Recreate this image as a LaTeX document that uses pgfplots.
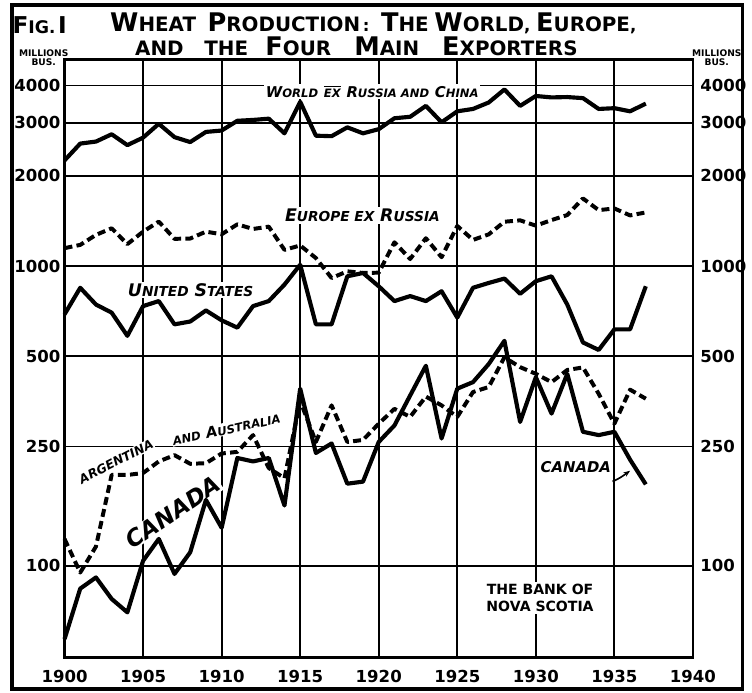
\documentclass[border=0pt]{standalone}
\usepackage{fontspec}
\setmainfont{DejaVu Sans}
\usepackage{pgfplots}
\usepackage{pgfplotstable}
\pgfplotsset{compat=1.18}
\usetikzlibrary{arrows.meta}
\newcommand{\sct}[2]{{\fontsize{15.5}{15.5}\selectfont #1}{\fontsize{12}{12}\selectfont #2}}
\newcommand{\scl}[2]{{\fontsize{9}{9}\selectfont #1}{\fontsize{7}{7}\selectfont #2}}
\newcommand{\scm}[2]{{\fontsize{10.5}{10.5}\selectfont #1}{\fontsize{8.3}{8.3}\selectfont #2}}

\pgfplotstableread{
year world europe us canada argaus
1900 2250 1147 690 57 123
1901 2560 1176 846 84 95
1902 2600 1270 744 91.5 116
1903 2750 1336 699 77.6 201
1904 2530 1183 585 70 201
1905 2680 1302 735 104 204
1906 2980 1406 764 123 223
1907 2690 1232 639 94 234
1908 2590 1235 653 111 219
1909 2800 1302 711 166 220
1910 2830 1276 659 134 237
1911 3050 1377 623 229 240
1912 3070 1329 735 223 273
1913 3100 1353 764 229 212
1914 2770 1132 867 159 196
1915 3530 1171 1010 390 355
1916 2720 1063 639 238 259
1917 2710 912 639 256 343
1918 2900 960 924 188 259
1919 2770 948 948 191 263
1920 2860 950 856 259 298
1921 3110 1200 764 294 334
1922 3145 1055 794 370 314
1923 3420 1238 764 465 367
1924 3015 1070 824 266 343
1925 3280 1360 673 390 314
1926 3340 1222 846 410 380
1927 3510 1275 878 471 395
1928 3880 1405 908 563 496
1929 3420 1420 808 302 460
1930 3690 1363 890 426 437
1931 3650 1423 924 322 410
1932 3660 1479 744 437 450
1933 3630 1680 556 280 459
1934 3340 1536 525 273 375
1935 3360 1556 615 280 298
1936 3280 1475 615 226 387
1937 3480 1509 856 187 361
}\wheat

\begin{document}
\begin{tikzpicture}[x=0.6pt,y=0.6pt]
\path (0,0) rectangle (752,698);
\draw[line width=2.2pt] (12,4) rectangle (748,693);
% title
\node[font=\bfseries] at (40,673) {{\fontsize{14}{14}\selectfont F}{\fontsize{10.5}{10.5}\selectfont IG}.\,{\fontsize{14}{14}\selectfont I}};
\node[font=\bfseries] at (376,674) {\sct{W}{HEAT}\ \ \sct{P}{RODUCTION}\,:\ \ \sct{T}{HE}\ \sct{W}{ORLD},\ \sct{E}{UROPE},};
\node[font=\bfseries] at (359,651) {{\fontsize{12}{12}\selectfont AND\ \ \ THE}\ \ \ \sct{F}{OUR}\ \ \ \ \sct{M}{AIN}\ \ \ \ \sct{E}{XPORTERS}};
\node[font=\bfseries\fontsize{5.5}{6}\selectfont, align=center, inner sep=0pt] at (44,640) {MILLIONS\\[-0.5pt]BUS.};
\node[font=\bfseries\fontsize{5.5}{6}\selectfont, align=center, inner sep=0pt] at (722,640) {MILLIONS\\[-0.5pt]BUS.};

\begin{axis}[
  at={(39pt,21.6pt)}, anchor=south west, scale only axis,
  width=379.8pt, height=361.2pt, set layers,
  xmin=1900, xmax=1940, ymode=log, ymin=49.6, ymax=4880,
  axis line style={line width=1.6pt},
  xtick={1900,1905,...,1940},
  ytick={100,250,500,1000,2000,3000,4000},
  yticklabels={100,250,500,1000,2000,3000,4000},
  grid=major, grid style={black, line width=1.1pt},
  major tick length=0pt,
  /pgf/number format/assume math mode=true,
  xticklabel style={font=\bfseries\fontsize{10}{10}\selectfont, /pgf/number format/1000 sep={}, yshift=-4.5pt},
  yticklabel style={font=\bfseries\fontsize{10}{10}\selectfont, xshift=1pt},
  clip=false,
]
\begin{pgfonlayer}{pre main}
\node[fill=white, inner sep=1pt, font=\bfseries\itshape] at (rel axis cs:0.4897,0.9468) {\scl{W}{ORLD} \scl{}{$\overline{\mbox{EX}}$} \scl{R}{USSIA AND} \scl{C}{HINA}};
\node[fill=white, inner sep=1pt, font=\bfseries\itshape] at (rel axis cs:0.474,0.739) {\scm{E}{UROPE EX} \scm{R}{USSIA}};
\node[fill=white, inner sep=1pt, font=\bfseries\itshape] at (rel axis cs:0.2006,0.6146) {\scm{U}{NITED} \scm{S}{TATES}};
\node[fill=white, inner sep=0.5pt, rotate=27, font=\bfseries\itshape\fontsize{7.5}{7.5}\selectfont] at (rel axis cs:0.0821,0.3272) {ARGENTINA};
\node[fill=white, inner sep=0.5pt, rotate=12, font=\bfseries\itshape] at (rel axis cs:0.2575,0.382) {\scl{}{AND} \scl{A}{USTRALIA}};
\node[fill=white, inner sep=0.5pt, rotate=34, font=\bfseries\itshape\fontsize{14}{14}\selectfont] at (rel axis cs:0.1722,0.2425) {CANADA};
\node[fill=white, inner sep=1pt, font=\bfseries\itshape\fontsize{9}{9}\selectfont] at (rel axis cs:0.8136,0.3173) {CANADA};
\node[fill=white, inner sep=1.5pt, align=center, font=\bfseries\fontsize{8.5}{10}\selectfont] at (rel axis cs:0.7567,0.0993) {THE BANK OF\\NOVA SCOTIA};
\draw[line width=1pt, -{Stealth[length=4pt]}] (rel axis cs:0.8720,0.2940) .. controls (rel axis cs:0.885,0.300) and (rel axis cs:0.888,0.303) .. (rel axis cs:0.9000,0.3120);
\end{pgfonlayer}
\addplot[line width=2.5pt, line join=round] table[x=year,y=world] {\wheat};
\addplot[line width=2.4pt, line join=round, dash pattern=on 4.8pt off 2.6pt] table[x=year,y=europe] {\wheat};
\addplot[line width=2.5pt, line join=round] table[x=year,y=us] {\wheat};
\addplot[line width=2.4pt, line join=round, dash pattern=on 4.8pt off 2.6pt] table[x=year,y=argaus] {\wheat};
\addplot[line width=2.5pt, line join=round] table[x=year,y=canada] {\wheat};
\end{axis}
\begin{axis}[
  at={(39pt,21.6pt)}, anchor=south west, scale only axis,
  width=379.8pt, height=361.2pt,
  xmin=1900, xmax=1940, ymode=log, ymin=49.6, ymax=4880,
  axis y line*=right, hide x axis,
  axis line style={line width=1.6pt},
  ytick={100,250,500,1000,2000,3000,4000},
  yticklabels={100,250,500,1000,2000,3000,4000},
  major tick length=0pt,
  /pgf/number format/assume math mode=true,
  yticklabel style={font=\bfseries\fontsize{10}{10}\selectfont, xshift=1pt},
]
\addplot[draw=none] coordinates {(1900,100) (1940,1000)};
\end{axis}
\end{tikzpicture}
\end{document}
